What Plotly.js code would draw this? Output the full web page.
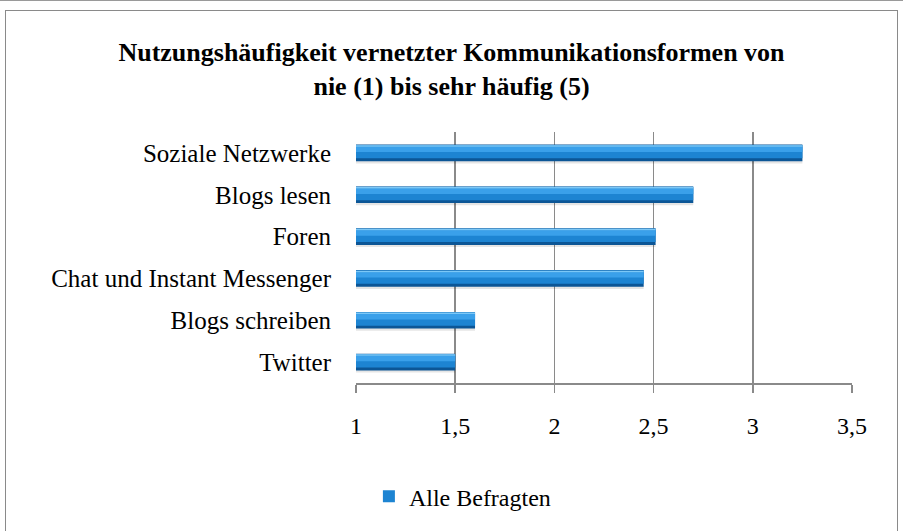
<!DOCTYPE html>
<html>
<head>
<meta charset="utf-8">
<script src="https://cdn.plot.ly/plotly-3.0.1.min.js"></script>
<style>
  html, body { margin:0; padding:0; background:#fff; }
  #wrap { position:relative; width:903px; height:531px; overflow:hidden; }
  #chart { position:absolute; left:0; top:0; width:903px; height:531px; }
  #frame { position:absolute; left:5px; top:10px; width:891px; height:540px; border:1.5px solid #8a8a8a; pointer-events:none; }
  #topline { position:absolute; left:0; top:0; width:903px; height:1px; background:#9a9a9a; }
</style>
</head>
<body>
<div id="wrap">
  <div id="chart"></div>
  <div id="topline"></div>
  <div id="frame"></div>
</div>
<script>
const categories = ["Soziale Netzwerke", "Blogs lesen", "Foren", "Chat und Instant Messenger", "Blogs schreiben", "Twitter"];
const values = [3.25, 2.70, 2.51, 2.45, 1.60, 1.50];
const seriesName = "Alle Befragten";
const tickValues = [1, 1.5, 2, 2.5, 3, 3.5];
const tickLabels = ["1", "1,5", "2", "2,5", "3", "3,5"];
const chartTitle = "Nutzungshäufigkeit vernetzter Kommunikationsformen von<br>nie (1) bis sehr häufig (5)";

const serif = '"Liberation Serif", "DejaVu Serif", serif';

function layer(color, width, offset, showlegend, name) {
  return {
    type: "bar", orientation: "h",
    y: categories, x: values,
    name: name || seriesName,
    width: width, offset: offset,
    marker: { color: color, line: { width: 0 } },
    showlegend: showlegend,
    hoverinfo: "skip"
  };
}

const traces = [
  layer("rgba(0,0,0,0.10)", 0.08, -0.25, false, "shadow"),
  layer("#0c5696", 0.40, -0.20, false, "base"),
  layer("#1d84d2", 0.32, -0.13, true),
  layer("#3aa0ea", 0.13, 0.02, false, "mid"),
  layer("#7cc8f7", 0.035, 0.15, false, "hl")
];

const layout = {
  width: 903, height: 531,
  margin: { l: 356, r: 51, t: 132, b: 148 },
  paper_bgcolor: "rgba(0,0,0,0)",
  plot_bgcolor: "rgba(0,0,0,0)",
  barmode: "overlay",
  font: { family: serif, color: "#000", size: 24 },
  title: {
    text: chartTitle,
    font: { family: serif, size: 26, color: "#000", weight: "bold" },
    x: 0.5, xref: "container", xanchor: "center",
    y: 0.885, yref: "container", yanchor: "top"
  },
  xaxis: {
    range: [1, 3.5],
    tickvals: tickValues, ticktext: tickLabels,
    showgrid: true, gridcolor: "#8a8a8a", gridwidth: 1.5,
    zeroline: false,
    showline: true, linecolor: "#8a8a8a", linewidth: 1.5,
    ticks: "outside", ticklen: 8, tickcolor: "#8a8a8a", tickwidth: 1.5,
    ticklabelstandoff: 13,
    tickfont: { family: serif, size: 24, color: "#000" },
    fixedrange: true
  },
  yaxis: {
    type: "category",
    categoryorder: "array",
    categoryarray: categories.slice().reverse(),
    showgrid: false, zeroline: false, showline: false,
    ticks: "", ticklabelstandoff: 24,
    tickfont: { family: serif, size: 25, color: "#000" },
    fixedrange: true
  },
  legend: {
    orientation: "h",
    x: 0.026, xanchor: "left",
    y: -0.453, yanchor: "middle",
    font: { family: serif, size: 24, color: "#000" },
    itemwidth: 30,
    bgcolor: "rgba(0,0,0,0)"
  },
  showlegend: true
};

Plotly.newPlot("chart", traces, layout, { displayModeBar: false, staticPlot: true });
</script>
</body>
</html>
